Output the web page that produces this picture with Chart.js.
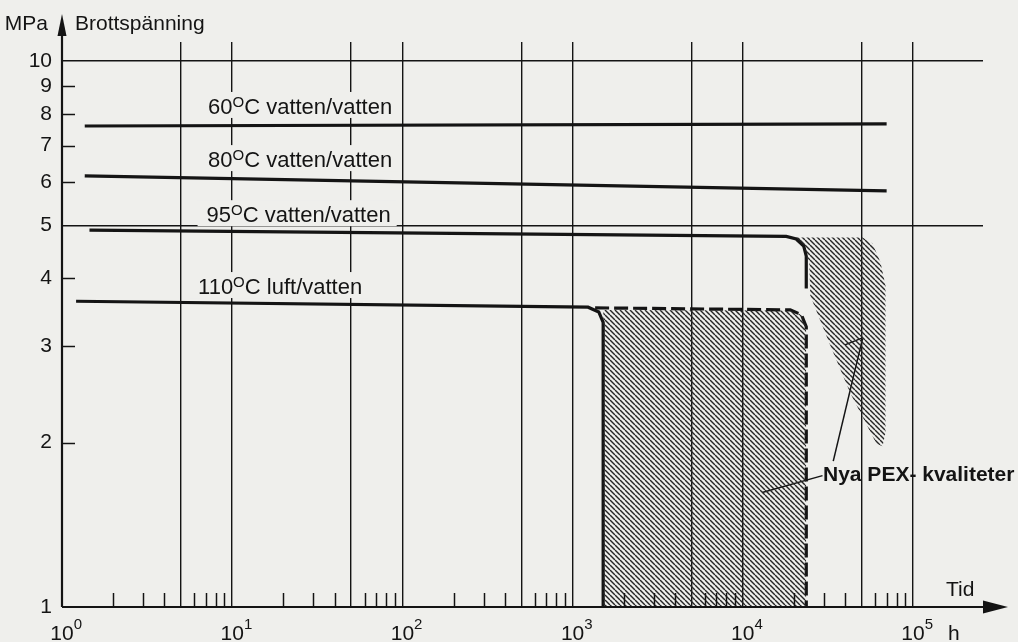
<!DOCTYPE html>
<html>
<head>
<meta charset="utf-8">
<script src="https://cdn.jsdelivr.net/npm/chart.js@4.4.1/dist/chart.umd.min.js"></script>
<style>
  html, body { margin: 0; padding: 0; background: #efefec; }
  #wrap { width: 1018px; height: 642px; }
</style>
</head>
<body>
<div id="wrap"><canvas id="chart" width="1018" height="642"></canvas></div>
<script>
// tid (h) mot brottspänning (MPa), log-log
var xTickValues = [1, 2, 3, 4, 5, 6, 7, 8, 9, 10, 20, 30, 40, 50, 60, 70, 80, 90,
  100, 200, 300, 400, 500, 600, 700, 800, 900, 1000, 2000, 3000, 4000, 5000, 6000, 7000, 8000, 9000,
  10000, 20000, 30000, 40000, 50000, 60000, 70000, 80000, 90000, 100000];
var xGridValues = [5, 10, 50, 100, 500, 1000, 5000, 10000, 50000, 100000];
var xLabelValues = [1, 10, 100, 1000, 10000, 100000];
var xLabelExp = ['0', '1', '2', '3', '4', '5'];
var yTickValues = [1, 2, 3, 4, 5, 6, 7, 8, 9, 10];
var yGridValues = [5, 10];

var line60x = [1.36, 70000];
var line60y = [7.6, 7.67];
var line80x = [1.36, 70000];
var line80y = [6.16, 5.78];
var line95x = [1.45, 18000, 20600, 22800, 23600, 23600];
var line95y = [4.9, 4.77, 4.72, 4.58, 4.39, 3.83];
var line110x = [1.21, 1233, 1425, 1512, 1512];
var line110y = [3.63, 3.54, 3.47, 3.32, 1];
var dashX = [1356, 19000, 22100, 23600, 23600];
var dashY = [3.53, 3.50, 3.43, 3.26, 1];
var hatch1X = [1512, 19000, 22100, 23600, 23600];
var hatch1Y = [3.5, 3.49, 3.43, 3.26, 1];
var hatch2X = [19800, 50500, 57800, 64400, 68900, 68900, 66200, 61000, 42900, 32700, 24900, 24600, 22700];
var hatch2Y = [4.75, 4.75, 4.63, 4.28, 3.88, 2.08, 1.97, 1.99, 2.46, 3.01, 3.72, 4.28, 4.60];
var leaderAx = [29400, 13000];
var leaderAy = [1.74, 1.62];
var leaderBx = [34000, 50500];
var leaderBy = [1.85, 3.10];
var leaderCx = [39800, 50500];
var leaderCy = [3.02, 3.11];

// etiketter: [text före, exponent-O, text efter, x, y]
var seriesLabels = [
  ['60', 'O', 'C vatten/vatten', 7.21, 8.27],
  ['80', 'O', 'C vatten/vatten', 7.21, 6.61],
  ['95', 'O', 'C vatten/vatten', 7.07, 5.24],
  ['110', 'O', 'C luft/vatten', 6.30, 3.87]
];
var noteText = 'Nya PEX- kvaliteter';
var noteX = 29600, noteY = 1.75;

var INK = '#141414';
var FONT = '"Liberation Sans", Arial, sans-serif';

function pts(xs, ys) {
  return xs.map(function(x, i) { return {x: x, y: ys[i]}; });
}

function hatchPattern() {
  var s = 5, c = document.createElement('canvas');
  c.width = s; c.height = s;
  var g = c.getContext('2d');
  g.strokeStyle = '#262626';
  g.lineWidth = 1.4;
  for (var k = -1; k <= 1; k++) {
    g.beginPath();
    g.moveTo(k * s, 0);
    g.lineTo(k * s + s, s);
    g.stroke();
  }
  return g.createPattern(c, 'repeat');
}

function isIn(list, v) {
  return list.some(function(w) { return Math.abs(w - v) / w < 1e-6; });
}

function drawParts(ctx, parts, x, base) {
  parts.forEach(function(p) {
    ctx.font = p[1] + 'px ' + FONT;
    ctx.fillText(p[0], x, base + p[2]);
    x += ctx.measureText(p[0]).width;
  });
  return x;
}

function partsWidth(ctx, parts) {
  var w = 0;
  parts.forEach(function(p) {
    ctx.font = p[1] + 'px ' + FONT;
    w += ctx.measureText(p[0]).width;
  });
  return w;
}

var decor = {
  id: 'decor',
  afterDraw: function(chart) {
    var ctx = chart.ctx, xs = chart.scales.x, ys = chart.scales.y, a = chart.chartArea;
    ctx.save();
    ctx.strokeStyle = INK;
    ctx.fillStyle = INK;

    // korta skalstreck
    ctx.lineWidth = 1.5;
    xTickValues.forEach(function(v) {
      if (isIn(xGridValues, v) || v === 1) return;
      var px = Math.round(xs.getPixelForValue(v)) + 0.5;
      ctx.beginPath(); ctx.moveTo(px, a.bottom); ctx.lineTo(px, a.bottom - 14); ctx.stroke();
    });
    yTickValues.forEach(function(v) {
      if (isIn(yGridValues, v) || v === 1) return;
      var py = Math.round(ys.getPixelForValue(v)) + 0.5;
      ctx.beginPath(); ctx.moveTo(a.left, py); ctx.lineTo(a.left + 13, py); ctx.stroke();
    });

    // axlar med pilar
    ctx.lineWidth = 2.2;
    ctx.beginPath();
    ctx.moveTo(a.left, a.bottom); ctx.lineTo(a.left, 30);
    ctx.moveTo(a.left, a.bottom); ctx.lineTo(995, a.bottom);
    ctx.stroke();
    ctx.beginPath();
    ctx.moveTo(a.left, 14); ctx.lineTo(a.left - 4.5, 36); ctx.lineTo(a.left + 4.5, 36); ctx.closePath();
    ctx.fill();
    ctx.beginPath();
    ctx.moveTo(1008, a.bottom); ctx.lineTo(983, a.bottom - 6.5); ctx.lineTo(983, a.bottom + 6.5); ctx.closePath();
    ctx.fill();

    // x-etiketter 10^n
    ctx.textAlign = 'left';
    ctx.textBaseline = 'alphabetic';
    xLabelValues.forEach(function(v, i) {
      var px = xs.getPixelForValue(v);
      ctx.font = '21px ' + FONT;
      var w = ctx.measureText('10').width;
      drawParts(ctx, [['10', 21, 0], [xLabelExp[i], 15, -11]], px - w / 2, 640);
    });
    ctx.font = '21px ' + FONT;
    ctx.fillText('h', 948, 640);
    ctx.fillText('Tid', 946, 596);

    // y-axelns titel
    ctx.textAlign = 'right';
    ctx.fillText('MPa', a.left - 14, 30);
    ctx.textAlign = 'left';
    ctx.fillText('Brottspänning', a.left + 13, 30);

    // serieetiketter
    seriesLabels.forEach(function(l) {
      var px = xs.getPixelForValue(l[3]);
      var py = ys.getPixelForValue(l[4]);
      var parts = [[l[0], 22, 0], [l[1], 15, -7], [l[2], 22, 0]];
      var w = partsWidth(ctx, parts);
      ctx.fillStyle = '#efefec';
      ctx.fillRect(px - 9, py - 14, w + 15, 26);
      ctx.fillStyle = INK;
      drawParts(ctx, parts, px, py + 8);
    });

    // not
    ctx.font = 'bold 21px ' + FONT;
    ctx.fillText(noteText, xs.getPixelForValue(noteX), ys.getPixelForValue(noteY) + 7);

    ctx.restore();
  }
};

var thin = {borderColor: INK, borderWidth: 1.5, pointRadius: 0, showLine: true, fill: false};
var thick = {borderColor: INK, borderWidth: 3.2, pointRadius: 0, showLine: true, fill: false};

new Chart(document.getElementById('chart'), {
  type: 'scatter',
  data: {
    datasets: [
      {data: pts(hatch1X, hatch1Y), showLine: true, borderWidth: 0, pointRadius: 0, fill: 'start', backgroundColor: hatchPattern()},
      {data: pts(hatch2X, hatch2Y), showLine: true, borderWidth: 0, pointRadius: 0, fill: 'shape', backgroundColor: hatchPattern()},
      Object.assign({data: pts(line60x, line60y)}, thick),
      Object.assign({data: pts(line80x, line80y)}, thick),
      Object.assign({data: pts(line95x, line95y)}, thick),
      Object.assign({data: pts(line110x, line110y)}, thick),
      Object.assign({data: pts(dashX, dashY), borderDash: [14, 5]}, thick),
      Object.assign({data: pts(leaderAx, leaderAy)}, thin),
      Object.assign({data: pts(leaderBx, leaderBy)}, thin),
      Object.assign({data: pts(leaderCx, leaderCy)}, thin)
    ]
  },
  options: {
    responsive: false,
    devicePixelRatio: 1,
    animation: false,
    layout: {padding: {top: 42, right: 35, left: 0, bottom: 0}},
    plugins: {legend: {display: false}, tooltip: {enabled: false}},
    scales: {
      x: {
        type: 'logarithmic',
        min: 1,
        max: 257800,
        afterFit: function(s) { s.height = 35; },
        afterBuildTicks: function(s) { s.ticks = xTickValues.map(function(v) { return {value: v}; }); },
        ticks: {display: false, autoSkip: false},
        border: {display: false},
        grid: {
          drawTicks: false,
          lineWidth: 1.4,
          color: function(c) { return c.tick && isIn(xGridValues, c.tick.value) ? INK : 'rgba(0,0,0,0)'; }
        }
      },
      y: {
        type: 'logarithmic',
        min: 1,
        max: 10.83,
        afterFit: function(s) { s.width = 62; },
        afterBuildTicks: function(s) { s.ticks = yTickValues.map(function(v) { return {value: v}; }); },
        ticks: {
          autoSkip: false,
          padding: 10,
          color: INK,
          font: {family: FONT, size: 21},
          callback: function(v) { return String(v); }
        },
        border: {display: false},
        grid: {
          drawTicks: false,
          lineWidth: 1.4,
          color: function(c) { return c.tick && isIn(yGridValues, c.tick.value) ? INK : 'rgba(0,0,0,0)'; }
        }
      }
    }
  },
  plugins: [decor]
});
</script>
</body>
</html>
